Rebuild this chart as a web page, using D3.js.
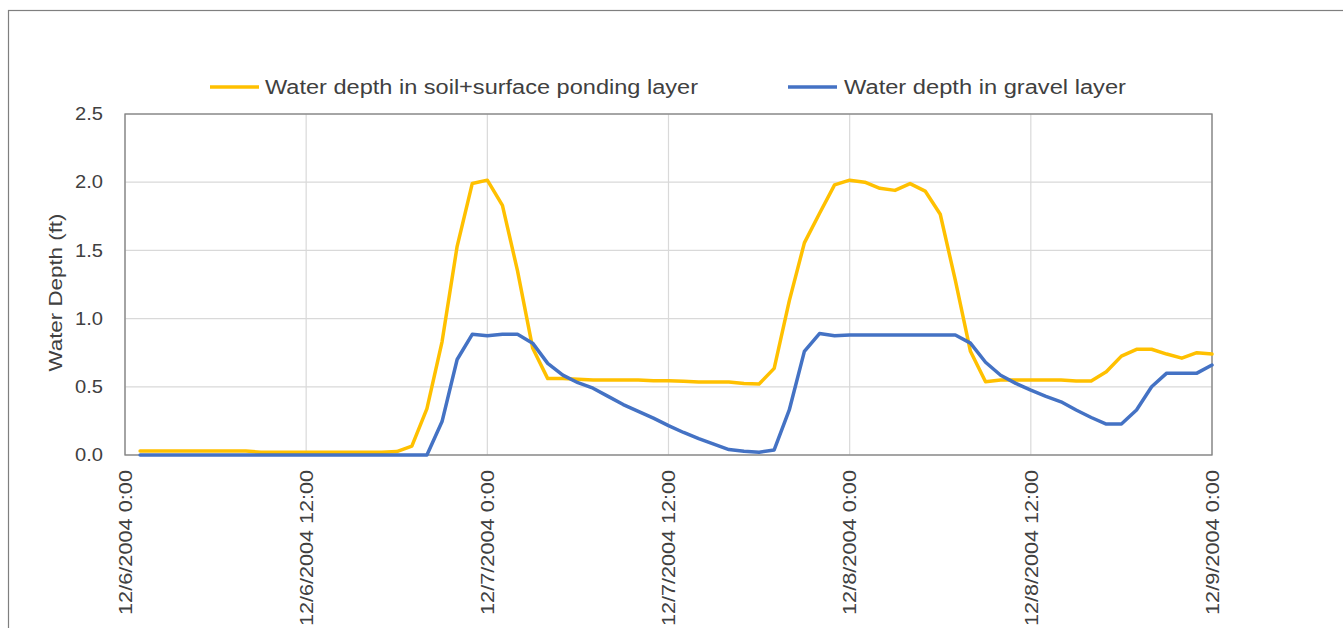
<!DOCTYPE html>
<html>
<head>
<meta charset="utf-8">
<script src="https://cdn.jsdelivr.net/npm/d3@7"></script>
<style>
  html, body { margin: 0; padding: 0; background: #fff; }
  svg { display: block; }
  text { font-family: "Liberation Sans", Arial, sans-serif; fill: #404040; }
</style>
</head>
<body>
<svg id="chart" width="1343" height="628"></svg>
<script>
// ---- data (hourly readings, 12/6/2004 1:00 through 12/9/2004 0:00) ----
const seriesNames = ["Water depth in soil+surface ponding layer", "Water depth in gravel layer"];
const seriesColors = ["#FFC000", "#4472C4"];
const soilDepth = [
  0.03, 0.03, 0.03, 0.03, 0.03, 0.03, 0.03, 0.03, 0.02, 0.02,
  0.02, 0.02, 0.02, 0.02, 0.02, 0.02, 0.02, 0.025, 0.065, 0.34,
  0.83, 1.53, 1.99, 2.015, 1.83, 1.35, 0.785, 0.56, 0.56, 0.555,
  0.55, 0.55, 0.55, 0.55, 0.545, 0.545, 0.54, 0.535, 0.535, 0.535,
  0.525, 0.52, 0.635, 1.13, 1.555, 1.77, 1.98, 2.015, 2.0, 1.955,
  1.94, 1.99, 1.935, 1.765, 1.28, 0.76, 0.537, 0.55, 0.55, 0.55,
  0.55, 0.55, 0.543, 0.543, 0.61, 0.725, 0.775, 0.775, 0.74, 0.71,
  0.75, 0.74
];
const gravelDepth = [
  0, 0, 0, 0, 0, 0, 0, 0, 0, 0,
  0, 0, 0, 0, 0, 0, 0, 0, 0, 0,
  0.245, 0.70, 0.885, 0.875, 0.885, 0.885, 0.82, 0.672, 0.586, 0.53,
  0.49, 0.43, 0.37, 0.32, 0.27, 0.215, 0.165, 0.12, 0.08, 0.04,
  0.027, 0.02, 0.037, 0.33, 0.76, 0.89, 0.875, 0.88, 0.88, 0.88,
  0.88, 0.88, 0.88, 0.88, 0.88, 0.82, 0.68, 0.585, 0.525, 0.475,
  0.43, 0.39, 0.33, 0.275, 0.227, 0.227, 0.33, 0.5, 0.6, 0.6,
  0.6, 0.66
];
const startTime = new Date(2004, 11, 6, 0, 0);
const endTime = new Date(2004, 11, 9, 0, 0);
const xTickLabels = ["12/6/2004 0:00", "12/6/2004 12:00", "12/7/2004 0:00", "12/7/2004 12:00",
                     "12/8/2004 0:00", "12/8/2004 12:00", "12/9/2004 0:00"];
const yTicks = [0, 0.5, 1.0, 1.5, 2.0, 2.5];
const yTitle = "Water Depth (ft)";

// timestamps for the readings (1 h interval starting 1:00)
const times = soilDepth.map((_, i) => d3.timeHour.offset(startTime, i + 1));
const xTickDates = xTickLabels.map((_, i) => d3.timeHour.offset(startTime, 12 * i));

// ---- layout ----
const svg = d3.select("#chart");
const plot = { left: 125, right: 1212, top: 114, bottom: 455 };

// chart area border
svg.append("rect").attr("x", 8.5).attr("y", 10.5).attr("width", 1400).attr("height", 700)
  .attr("fill", "#fff").attr("stroke", "#7f7f7f").attr("stroke-width", 1.2);

const x = d3.scaleTime().domain([startTime, endTime]).range([plot.left, plot.right]);
const y = d3.scaleLinear().domain([0, 2.5]).range([plot.bottom, plot.top]);

// gridlines
svg.append("g").selectAll("line.h").data(yTicks).join("line")
  .attr("x1", plot.left).attr("x2", plot.right)
  .attr("y1", d => y(d)).attr("y2", d => y(d))
  .attr("stroke", "#d9d9d9").attr("stroke-width", 1.2);
svg.append("g").selectAll("line.v").data(xTickDates).join("line")
  .attr("x1", d => x(d)).attr("x2", d => x(d))
  .attr("y1", plot.top).attr("y2", plot.bottom)
  .attr("stroke", "#d9d9d9").attr("stroke-width", 1.2);

// plot border
svg.append("rect").attr("x", plot.left).attr("y", plot.top)
  .attr("width", plot.right - plot.left).attr("height", plot.bottom - plot.top)
  .attr("fill", "none").attr("stroke", "#808080").attr("stroke-width", 1.3);

// y axis labels
const yAxis = d3.axisLeft(y).tickValues(yTicks).tickFormat(d3.format(".1f")).tickSize(0).tickPadding(22);
const gy = svg.append("g").attr("transform", `translate(${plot.left},0)`).call(yAxis);
gy.select(".domain").remove();
gy.selectAll("text").attr("font-size", 18).attr("fill", "#404040")
  .attr("font-family", "Liberation Sans, Arial, sans-serif")
  .attr("textLength", 28).attr("lengthAdjust", "spacingAndGlyphs");

// x axis labels
const xAxis = d3.axisBottom(x).tickValues(xTickDates).tickFormat((d, i) => xTickLabels[i]).tickSize(0);
const gx = svg.append("g").attr("transform", `translate(0,${plot.bottom})`).call(xAxis);
gx.select(".domain").remove();
gx.selectAll("text")
  .attr("font-size", 18).attr("fill", "#404040")
  .attr("font-family", "Liberation Sans, Arial, sans-serif")
  .attr("text-anchor", "end")
  .attr("dy", "0.35em")
  .attr("transform", "translate(0,15) rotate(-90)")
  .attr("x", 0).attr("y", 0)
  .attr("textLength", (d, i) => xTickLabels[i].length === 14 ? 145 : 156)
  .attr("lengthAdjust", "spacingAndGlyphs");

// y title
svg.append("text")
  .attr("transform", `translate(62,${(plot.top + plot.bottom) / 2 + 8}) rotate(-90)`)
  .attr("text-anchor", "middle")
  .attr("font-size", 19)
  .attr("textLength", 158).attr("lengthAdjust", "spacingAndGlyphs")
  .text(yTitle);

// lines
const line = d3.line().x((d, i) => x(times[i])).y(d => y(d));
[soilDepth, gravelDepth].forEach((vals, k) => {
  svg.append("path").datum(vals)
    .attr("fill", "none").attr("stroke", seriesColors[k])
    .attr("stroke-width", 3.5).attr("stroke-linejoin", "round").attr("stroke-linecap", "round")
    .attr("d", line);
});

// legend
const legendItems = [
  { x1: 210, x2: 259, tx: 265, len: 433 },
  { x1: 788, x2: 837, tx: 844, len: 282 }
];
legendItems.forEach((it, k) => {
  svg.append("line").attr("x1", it.x1).attr("x2", it.x2).attr("y1", 87).attr("y2", 87)
    .attr("stroke", seriesColors[k]).attr("stroke-width", 3.5);
  svg.append("text").attr("x", it.tx).attr("y", 94).attr("font-size", 20)
    .attr("textLength", it.len).attr("lengthAdjust", "spacingAndGlyphs")
    .text(seriesNames[k]);
});
</script>
</body>
</html>
